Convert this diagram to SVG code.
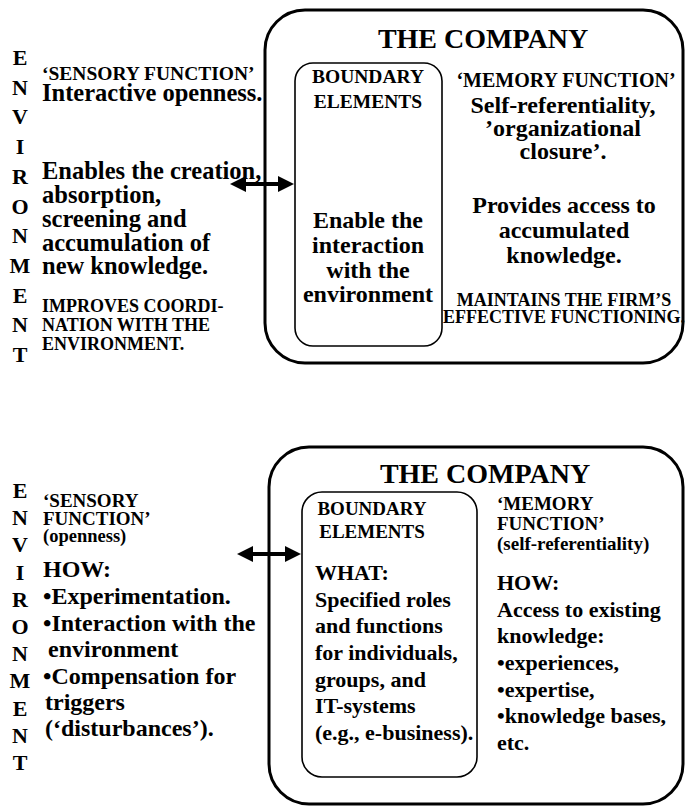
<svg xmlns="http://www.w3.org/2000/svg" width="685" height="808" viewBox="0 0 685 808">
  <style>
    text { font-family: "Liberation Serif", "Times New Roman", serif; font-weight: bold; fill: #000; }
    .env { font-size: 22px; text-anchor: middle; }
    .c { text-anchor: middle; }
    .outer { fill: none; stroke: #000; stroke-width: 3; }
    .inner { fill: none; stroke: #000; stroke-width: 1.6; }
    .link { stroke: #000; stroke-width: 4; fill: none; }
  </style>
  <defs>
    <marker id="head" viewBox="0 0 16 16" markerWidth="16" markerHeight="16" markerUnits="userSpaceOnUse" refX="6" refY="8" orient="auto-start-reverse">
      <path d="M0,0 L16,8 L0,16 z" fill="#000"/>
    </marker>
  </defs>

  <rect width="685" height="808" fill="#fff"/>

  <!-- ===== Upper diagram ===== -->
  <g id="env-top">
    <text class="env" x="20" y="65">E</text>
    <text class="env" x="20" y="94.7">N</text>
    <text class="env" x="20" y="124.4">V</text>
    <text class="env" x="20" y="154.1">I</text>
    <text class="env" x="20" y="183.8">R</text>
    <text class="env" x="20" y="213.5">O</text>
    <text class="env" x="20" y="243.2">N</text>
    <text class="env" x="20" y="272.9">M</text>
    <text class="env" x="20" y="302.6">E</text>
    <text class="env" x="20" y="332.3">N</text>
    <text class="env" x="20" y="362">T</text>
  </g>

  <g id="sensory-top">
    <text x="42" y="80" font-size="19.5">‘SENSORY FUNCTION’</text>
    <text x="42" y="101" font-size="24.5">Interactive openness.</text>
    <text x="42" y="179" font-size="24.5">Enables the creation,</text>
    <text x="42" y="203" font-size="24.5">absorption,</text>
    <text x="42" y="227" font-size="24.5">screening and</text>
    <text x="42" y="251" font-size="24.5">accumulation of</text>
    <text x="42" y="274" font-size="24.5">new knowledge.</text>
    <text x="42" y="312" font-size="18">IMPROVES COORDI-</text>
    <text x="42" y="331" font-size="18">NATION WITH THE</text>
    <text x="42" y="350" font-size="18">ENVIRONMENT.</text>
  </g>

  <g id="company-top">
    <rect class="outer" x="265" y="10" width="418" height="353" rx="40" ry="40"/>
    <text class="c" x="483" y="48" font-size="28">THE COMPANY</text>
  </g>

  <g id="boundary-top">
    <rect class="inner" x="295" y="63" width="147" height="283" rx="18" ry="18"/>
    <text class="c" x="368" y="83" font-size="19.5">BOUNDARY</text>
    <text class="c" x="368" y="108" font-size="19.5">ELEMENTS</text>
    <text class="c" x="368" y="228" font-size="24">Enable the</text>
    <text class="c" x="368" y="253" font-size="24">interaction</text>
    <text class="c" x="368" y="278" font-size="24">with the</text>
    <text class="c" x="368" y="302" font-size="24">environment</text>
  </g>

  <g id="memory-top">
    <text class="c" x="566" y="87" font-size="20">‘MEMORY FUNCTION’</text>
    <text class="c" x="563" y="113" font-size="24">Self-referentiality,</text>
    <text class="c" x="563" y="136" font-size="24">’organizational</text>
    <text class="c" x="563" y="159" font-size="24">closure’.</text>
    <text class="c" x="564" y="213" font-size="24">Provides access to</text>
    <text class="c" x="564" y="238" font-size="24">accumulated</text>
    <text class="c" x="564" y="263" font-size="24">knowledge.</text>
    <text class="c" x="564" y="306" font-size="18">MAINTAINS THE FIRM’S</text>
    <text class="c" x="564" y="323" font-size="18">EFFECTIVE FUNCTIONING.</text>
  </g>

  <!-- ===== Lower diagram ===== -->
  <g id="env-bottom">
    <text class="env" x="20" y="498">E</text>
    <text class="env" x="20" y="525.2">N</text>
    <text class="env" x="20" y="552.4">V</text>
    <text class="env" x="20" y="579.6">I</text>
    <text class="env" x="20" y="606.8">R</text>
    <text class="env" x="20" y="634">O</text>
    <text class="env" x="20" y="661.2">N</text>
    <text class="env" x="20" y="688.4">M</text>
    <text class="env" x="20" y="715.6">E</text>
    <text class="env" x="20" y="742.8">N</text>
    <text class="env" x="20" y="770">T</text>
  </g>

  <g id="sensory-bottom">
    <text x="43" y="507" font-size="19">‘SENSORY</text>
    <text x="43" y="525" font-size="19">FUNCTION’</text>
    <text x="43" y="542" font-size="18.5">(openness)</text>
    <text x="43" y="577" font-size="24">HOW:</text>
    <text x="43" y="604" font-size="24">•Experimentation.</text>
    <text x="43" y="631" font-size="24">•Interaction with the</text>
    <text x="48" y="657" font-size="24">environment</text>
    <text x="43" y="684" font-size="24">•Compensation for</text>
    <text x="45" y="710" font-size="24">triggers</text>
    <text x="45" y="736" font-size="24">(‘disturbances’).</text>
  </g>

  <g id="company-bottom">
    <rect class="outer" x="269" y="447" width="414" height="357" rx="40" ry="40"/>
    <text class="c" x="485" y="483" font-size="28">THE COMPANY</text>
  </g>

  <g id="boundary-bottom">
    <rect class="inner" x="302" y="492" width="175" height="285" rx="20" ry="20"/>
    <text class="c" x="372" y="515" font-size="19">BOUNDARY</text>
    <text class="c" x="372" y="538" font-size="19">ELEMENTS</text>
    <text x="315" y="580" font-size="22">WHAT:</text>
    <text x="315" y="607" font-size="22">Specified roles</text>
    <text x="315" y="633" font-size="22">and functions</text>
    <text x="315" y="660" font-size="22">for individuals,</text>
    <text x="315" y="687" font-size="22">groups, and</text>
    <text x="315" y="713" font-size="22">IT-systems</text>
    <text x="315" y="740" font-size="22">(e.g., e-business).</text>
  </g>

  <g id="memory-bottom">
    <text x="497" y="510" font-size="19">‘MEMORY</text>
    <text x="497" y="530" font-size="19">FUNCTION’</text>
    <text x="497" y="550" font-size="19">(self-referentiality)</text>
    <text x="497" y="590" font-size="22">HOW:</text>
    <text x="497" y="617" font-size="22">Access to existing</text>
    <text x="497" y="643" font-size="22">knowledge:</text>
    <text x="497" y="670" font-size="22">•experiences,</text>
    <text x="497" y="697" font-size="22">•expertise,</text>
    <text x="497" y="723" font-size="22">•knowledge bases,</text>
    <text x="497" y="750" font-size="22">etc.</text>
  </g>

  <!-- two-way links between environment and boundary elements -->
  <g id="connectors">
    <line class="link" x1="240" y1="184" x2="284" y2="184" marker-start="url(#head)" marker-end="url(#head)"/>
    <line class="link" x1="247" y1="554" x2="291" y2="554" marker-start="url(#head)" marker-end="url(#head)"/>
  </g>
</svg>
